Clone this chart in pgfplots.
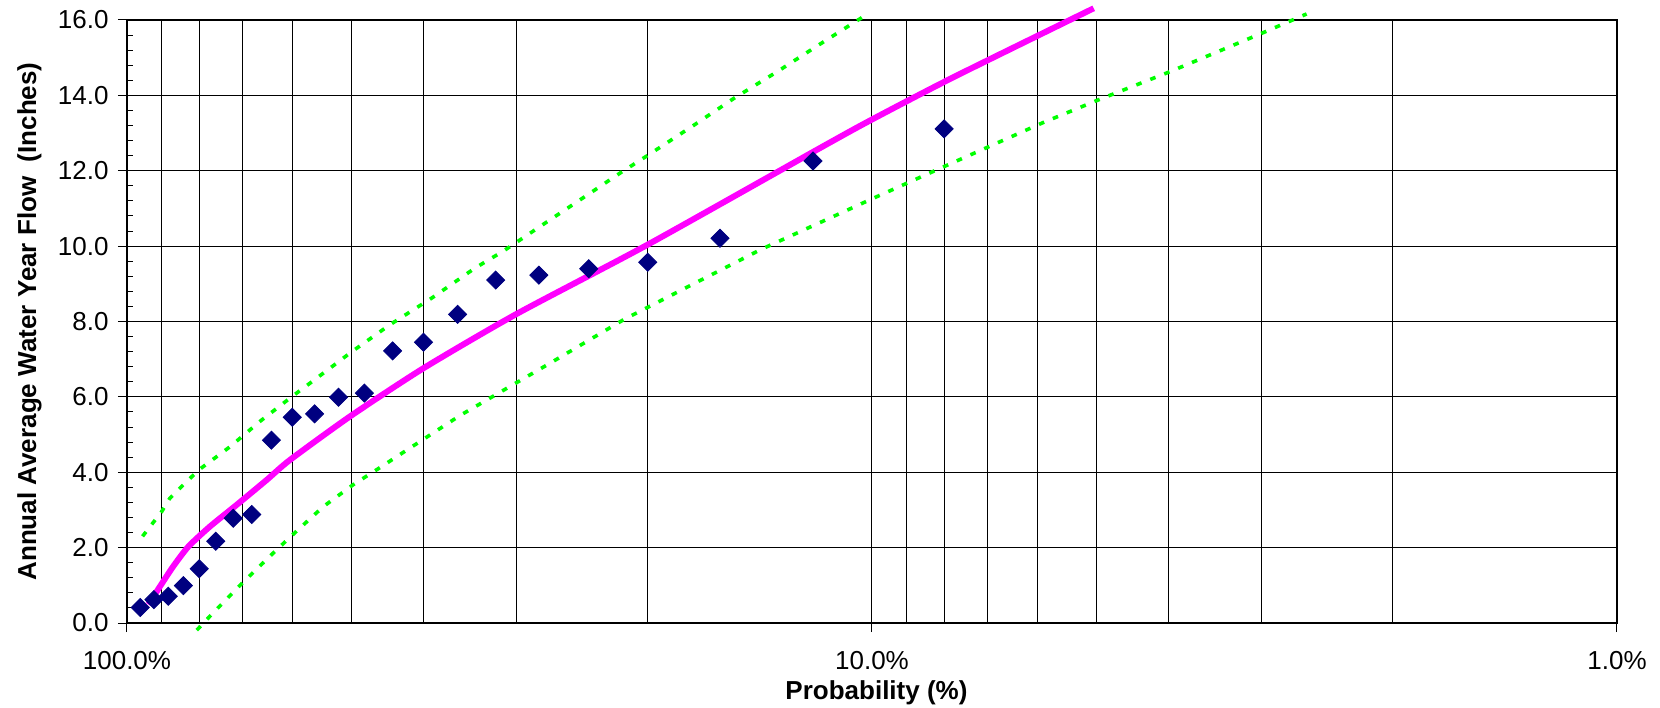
\documentclass[border=0pt]{standalone}
\usepackage{fontspec}
\setmainfont{Liberation Sans}
\usepackage{pgfplots}
\pgfplotsset{compat=1.18}
\definecolor{navy}{RGB}{0,0,128}
\definecolor{mag}{RGB}{255,0,255}
\definecolor{lgreen}{RGB}{0,255,0}
\begin{document}
\begin{tikzpicture}
\useasboundingbox (-63.5pt,-42pt) rectangle (766.5pt,311.5pt);
\begin{axis}[
  at={(0pt,0pt)}, anchor=south west,
  scale only axis, width=745pt, height=301.5pt,
  xmode=log, x dir=reverse, xmin=1, xmax=100,
  ymin=0, ymax=16,
  clip=false,
  axis line style={black, line width=0.6pt},
  xtick={1,10,100}, xticklabels={1.0\%,10.0\%,100.0\%},
  minor xtick={2,3,4,5,6,7,8,9,20,30,40,50,60,70,80,90},
  ytick={0,2,4,6,8,10,12,14,16},
  yticklabels={0.0,2.0,4.0,6.0,8.0,10.0,12.0,14.0,16.0},
  minor y tick num=4,
  xmajorgrids, xminorgrids, ymajorgrids,
  grid style={black, line width=0.5pt},
  minor grid style={black, line width=0.5pt},
  tick pos=left, tick align=inside,
  major tick length=3pt, minor tick length=3pt,
  tick style={black, line width=0.5pt},
  extra x ticks={1,10,100}, extra x tick labels={},
  extra y ticks={0,2,4,6,8,10,12,14,16}, extra y tick labels={},
  extra tick style={tick align=outside, major tick length=4.5pt, grid=none},
  tick label style={font=\fontsize{13}{15}\selectfont},
  xticklabel style={yshift=-10.5pt},
  yticklabel style={xshift=-5.7pt},
  xlabel={Probability (\%)},
  ylabel={Annual Average Water Year Flow\ \ (Inches)},
  label style={font=\bfseries\fontsize{13}{15}\selectfont},
  x label style={at={(axis description cs:0.503,-0.1161)}, anchor=center},
  y label style={at={(axis description cs:-0.0654,0.5)}, anchor=center},
]
% upper confidence limit
\addplot[lgreen, line width=1.8pt, line cap=butt, dash pattern=on 2.8pt off 4.7pt] coordinates {
(95.3,2.30) (89.8,2.96) (87.6,3.31) (85.3,3.54) (80.0,4.07) (72.7,4.68)
(66.3,5.35) (60.4,5.97) (54.5,6.63) (49.9,7.20) (44.4,7.91) (39.0,8.62)
(34.1,9.42) (31.3,9.86) (21.7,11.96) (19.96,12.42) (17.4,13.19) (15.3,13.93)
(13.4,14.63) (11.7,15.38) (10.1,16.18)
};
% lower confidence limit
\addplot[lgreen, line width=1.8pt, line cap=butt, dash pattern=on 2.8pt off 4.7pt] coordinates {
(80.6,-0.19) (77.4,0.18) (70.2,1.04) (63.0,1.94) (58.6,2.52) (54.5,3.09)
(49.7,3.67) (46.2,4.07) (40.4,4.82) (35.7,5.51) (30.9,6.23) (26.8,6.94)
(21.5,8.06) (14.1,9.91) (9.96,11.27) (7.78,12.22) (5.89,13.28) (4.94,13.90)
(3.98,14.63) (2.98,15.67) (2.61,16.16)
};
% fitted curve
\addplot[mag, line width=3pt, line join=round, smooth, tension=0.4] coordinates {
(93.6,0.49) (90.3,0.97) (86.7,1.50) (82.7,2.03) (77.4,2.56) (71.2,3.14)
(64.9,3.80) (60.4,4.33) (50.2,5.48) (40.0,6.76) (30.0,8.20) (20.0,10.04)
(11.7,12.62) (10.0,13.36) (7.78,14.48) (5.04,16.31)
};
% observed data
\addplot[only marks, mark=square*, mark size=3.2pt, color=navy,
  mark options={rotate=45, fill=navy, draw=navy}] coordinates {
(96,0.41) (92,0.62) (88,0.71) (84,0.99) (80,1.44) (76,2.17) (72,2.78)
(68,2.88) (64,4.85) (60,5.46) (56,5.55) (52,5.99) (48,6.10) (44,7.22)
(40,7.45) (36,8.19) (32,9.10) (28,9.23) (24,9.40) (20,9.57) (16,10.21)
(12,12.26) (8,13.11)
};
\end{axis}
\end{tikzpicture}
\end{document}
